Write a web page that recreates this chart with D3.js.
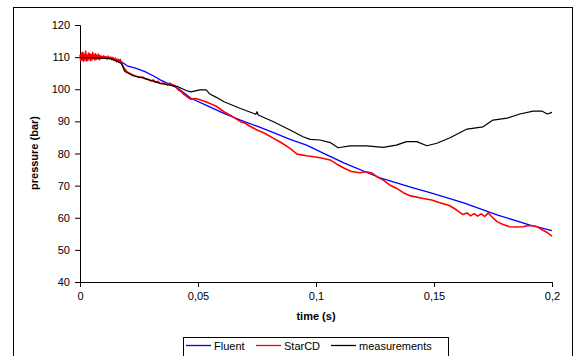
<!DOCTYPE html>
<html>
<head>
<meta charset="utf-8">
<script src="https://cdn.jsdelivr.net/npm/d3@7"></script>
<style>
  html, body { margin: 0; padding: 0; background: #fff; }
  svg { display: block; font-family: "Liberation Sans", Arial, sans-serif; }
</style>
</head>
<body>
<div id="chart"></div>
<script>
const width = 576;
const height = 356;

// Fluent
const fluentT = [0, 0.005, 0.01, 0.014, 0.018, 0.02, 0.0235, 0.0275, 0.031, 0.034, 0.0415, 0.047, 0.054, 0.061, 0.068, 0.075, 0.082, 0.089, 0.096, 0.1017, 0.112, 0.1275, 0.1415, 0.1483, 0.1623, 0.1767, 0.1907, 0.2];
const fluentP = [110, 110, 110, 109.6, 108.3, 107.3, 106.6, 105.5, 104.2, 102.9, 100.3, 97.2, 94.8, 92.5, 90.4, 88.5, 86.5, 84.4, 82.6, 80.6, 77, 72.3, 69.2, 67.8, 64.7, 60.9, 57.7, 56];

// StarCD
const starT = [0, 0.0003, 0.0006, 0.0009, 0.0012, 0.0015, 0.0018, 0.0021, 0.0024, 0.0027, 0.003, 0.0033, 0.0036, 0.0039, 0.0042, 0.0045, 0.0048, 0.0051, 0.0054, 0.0057, 0.006, 0.0063, 0.0066, 0.0069, 0.0072, 0.0075, 0.0078, 0.0081, 0.0084, 0.0087, 0.009,
  0.0095, 0.01, 0.0105, 0.011, 0.0115, 0.012, 0.0125, 0.013, 0.0135, 0.014, 0.0145, 0.015, 0.0155, 0.016, 0.0165, 0.017, 0.018, 0.019, 0.02, 0.021, 0.022, 0.0235, 0.025, 0.0265, 0.0275, 0.029, 0.03, 0.031, 0.032, 0.033, 0.034, 0.0355, 0.037, 0.038, 0.039, 0.040, 0.0415, 0.043, 0.044, 0.0455, 0.047, 0.049, 0.0508, 0.053, 0.055, 0.058, 0.061, 0.064, 0.068, 0.07, 0.072, 0.075, 0.078, 0.082, 0.085, 0.089, 0.092, 0.096, 0.099, 0.1017, 0.106, 0.109, 0.112, 0.115, 0.1186, 0.121, 0.1236, 0.126, 0.1285, 0.131, 0.134, 0.137, 0.14, 0.1455, 0.149, 0.1525, 0.1565, 0.1596, 0.1623, 0.164, 0.1655, 0.167, 0.1685, 0.17, 0.1715, 0.173, 0.1745, 0.1767, 0.179, 0.182, 0.185, 0.1877, 0.19, 0.192, 0.194, 0.196, 0.198, 0.2];
const starP = [110.8, 108.9, 111.2, 109.1, 111.5, 108.7, 110.9, 109.3, 111.8, 108.8, 110.6, 109.0, 111.3, 109.4, 111.0, 108.9, 110.7, 109.2, 111.4, 109.5, 110.8, 109.1, 111.0, 109.3, 110.6, 109.6, 110.9, 109.2, 110.5, 109.5, 110.3,
  109.7, 110.4, 109.6, 110.2, 109.4, 110.3, 109.5, 110.0, 109.2, 109.9, 109.0, 109.7, 108.6, 109.4, 108.7, 109.3, 107.6, 106.2, 105.4, 105.0, 104.6, 104.1, 103.7, 103.8, 103.3, 103.0, 102.6, 102.9, 102.2, 102.5, 101.8, 101.9, 101.4, 101.9, 101.5, 101.2, 99.9, 99.2, 98.4, 97.6, 96.9, 97.1, 96.7, 96.2, 95.6, 94.6, 93, 91.8, 89.9, 89.4, 88.5, 87.3, 86.4, 84.7, 83.5, 81.6, 79.8, 79.3, 79, 78.7, 78, 76.6, 75.4, 74.4, 74, 74.3, 74, 72.7, 71.7, 70.3, 69.2, 67.8, 66.8, 66, 65.5, 64.7, 63.8, 62.4, 61, 61.5, 60.6, 61.3, 60.5, 61.2, 60.4, 61.5, 60.3, 58.8, 58, 57.2, 57.1, 57.2, 57.6, 57.5, 57.1, 56.2, 55.4, 54.3];

// measurements
const measT = [0, 0.005, 0.01, 0.013, 0.016, 0.0175, 0.019, 0.0225, 0.0275, 0.034, 0.0415, 0.045, 0.047, 0.0508, 0.0535, 0.055, 0.058, 0.061, 0.068, 0.0745, 0.075, 0.0755, 0.082, 0.089, 0.0945, 0.0975, 0.1017, 0.106, 0.1094, 0.1144, 0.1215, 0.1285, 0.134, 0.1384, 0.1427, 0.147, 0.1512, 0.1568, 0.164, 0.1708, 0.175, 0.181, 0.1864, 0.192, 0.1957, 0.198, 0.2];
const measP = [109.8, 109.8, 109.7, 109.5, 108.6, 108, 105.5, 104.2, 103.4, 101.8, 100.8, 99.6, 99.2, 99.8, 99.8, 98.5, 97.4, 96.1, 94, 92.2, 93, 92, 89.9, 87.3, 85.2, 84.4, 84.2, 83.4, 81.8, 82.4, 82.4, 81.9, 82.6, 83.7, 83.7, 82.4, 83.2, 84.9, 87.6, 88.3, 90.4, 91, 92.3, 93.2, 93.2, 92.3, 92.8];

const xTicks = [0, 0.05, 0.1, 0.15, 0.2];
const yTicks = [40, 50, 60, 70, 80, 90, 100, 110, 120];

const series = [
  { name: "Fluent", t: fluentT, p: fluentP, color: "#0000ff", w: 1.3 },
  { name: "StarCD", t: starT, p: starP, color: "#ff0000", w: 1.6 },
  { name: "measurements", t: measT, p: measP, color: "#000000", w: 1.2 }
];

const svg = d3.select("#chart").append("svg")
  .attr("width", width)
  .attr("height", height);

// outer frame
svg.append("rect")
  .attr("x", 13.5).attr("y", 7.5)
  .attr("width", 559).attr("height", 360)
  .attr("fill", "none").attr("stroke", "#000");

const x = d3.scaleLinear().domain([0, 0.2]).range([80, 552]);
const y = d3.scaleLinear().domain([40, 120]).range([282, 25]);

const comma = d3.formatLocale({ decimal: ",", thousands: ".", grouping: [3], currency: ["", ""] }).format("~g");

const xAxis = svg.append("g")
  .attr("transform", "translate(0,282)")
  .call(d3.axisBottom(x).tickValues(xTicks).tickFormat(comma).tickSizeOuter(0).tickSize(5).tickPadding(5));

const yAxis = svg.append("g")
  .attr("transform", "translate(80,0)")
  .call(d3.axisLeft(y).tickValues(yTicks).tickSizeOuter(0).tickSize(5).tickPadding(5));

[xAxis, yAxis].forEach(a => {
  a.selectAll("text").attr("font-size", 11).attr("fill", "#000")
    .attr("font-family", "'Liberation Sans', Arial, sans-serif");
  a.selectAll("line").attr("stroke", "#000");
  a.select(".domain").attr("stroke", "#000");
});

const line = d3.line()
  .x(d => x(d[0]))
  .y(d => y(d[1]));

series.forEach(s => {
  svg.append("path")
    .datum(s.t.map((t, i) => [t, s.p[i]]))
    .attr("d", line)
    .attr("fill", "none")
    .attr("stroke", s.color)
    .attr("stroke-width", s.w)
    .attr("stroke-linejoin", "round");
});

svg.append("text")
  .attr("x", 316).attr("y", 320)
  .attr("text-anchor", "middle")
  .attr("font-size", 11).attr("font-weight", "bold")
  .text("time (s)");

svg.append("text")
  .attr("transform", "translate(38,153) rotate(-90)")
  .attr("text-anchor", "middle")
  .attr("font-size", 11).attr("font-weight", "bold")
  .text("pressure (bar)");

// legend
const legend = svg.append("g");
legend.append("rect")
  .attr("x", 183.5).attr("y", 337.5)
  .attr("width", 265).attr("height", 30)
  .attr("fill", "#fff").attr("stroke", "#000");

const legendX = [186, 256, 331];
series.forEach((s, i) => {
  legend.append("line")
    .attr("x1", legendX[i]).attr("x2", legendX[i] + 25)
    .attr("y1", 345.5).attr("y2", 345.5)
    .attr("stroke", s.color).attr("stroke-width", 1.3);
  legend.append("text")
    .attr("x", legendX[i] + 28).attr("y", 350)
    .attr("font-size", 11)
    .text(s.name);
});
</script>
</body>
</html>
